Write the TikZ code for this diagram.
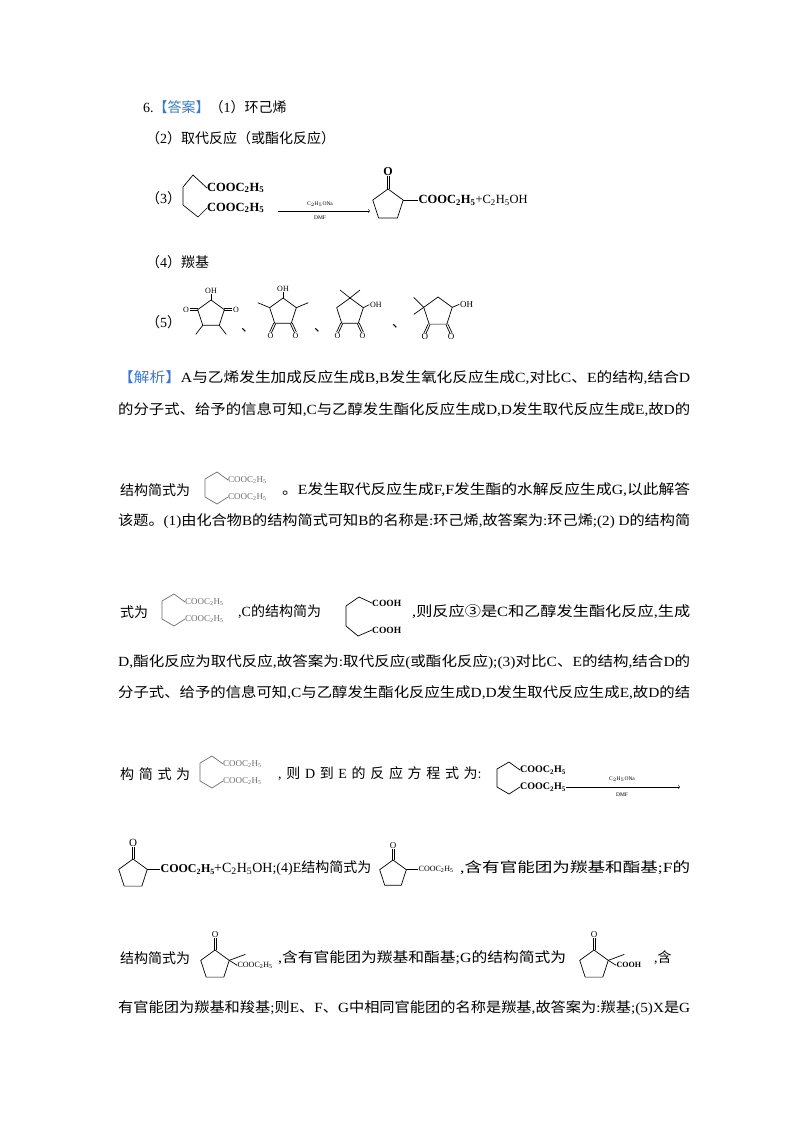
\documentclass[tikz,border=0pt]{standalone}
\usepackage{fontspec}
\usetikzlibrary{calc}
\setmainfont{Liberation Serif}
\newfontfamily\cjk{Noto Sans CJK SC}
\XeTeXinterchartokenstate=1
\newXeTeXintercharclass\cjkcls
\count255="4E00 \loop\XeTeXcharclass\count255=\cjkcls\ifnum\count255<"9FFF\advance\count255 1\repeat
\count255="3000 \loop\XeTeXcharclass\count255=\cjkcls\ifnum\count255<"303F\advance\count255 1\repeat
\count255="FF00 \loop\XeTeXcharclass\count255=\cjkcls\ifnum\count255<"FF60\advance\count255 1\repeat
\XeTeXcharclass"2462=\cjkcls
\XeTeXinterchartoks 0 \cjkcls={\cjk}
\XeTeXinterchartoks 4095 \cjkcls={\cjk}
\XeTeXinterchartoks \cjkcls 0={\rmfamily}
\XeTeXinterchartoks \cjkcls 4095={\rmfamily}
\definecolor{ansblue}{RGB}{60,120,200}
\definecolor{lgray}{RGB}{110,110,110}
\newcommand\Et{C\textsubscript{2}H\textsubscript{5}}
\newcommand\jl[4]{\node[txt] at (#1,#2) {\resizebox{#3pt}{\height}{#4}};}
% pentagon: name cx cy r
\newcommand\pent[4]{%
 \foreach \i/\a in {1/90,2/162,3/234,4/306,5/18}{\coordinate (#1\i) at ($(#2,#3)+(\a:#4pt)$);}
 \draw[bond] (#11)--(#12)--(#13)--(#14)--(#15)--cycle;}
% double bond: start, angle, length, anchor, fontsize, label
\newcommand\dbl[6]{%
 \draw[bond] ($(#1)+(#2+90:1pt)$) -- ++(#2:#3pt);
 \draw[bond] ($(#1)+(#2-90:1pt)$) -- ++(#2:#3pt);
 \node[anchor=#4,inner sep=0.5pt,font=\fontsize{#5}{#5}\selectfont] at ($(#1)+(#2:#3pt)$) {#6};}
% open chain: x y label
\newcommand\chain[3]{%
 \coordinate (ct) at (#1+12,#2-16); \coordinate (cl1) at (#1,#2-9);
 \coordinate (cl2) at (#1,#2+9); \coordinate (cb) at (#1+12,#2+16);
 \coordinate (ce1) at (#1+23,#2-8); \coordinate (ce2) at (#1+23,#2+9);
 \draw[bond] (ce1)--(ct)--(cl1)--(cl2)--(cb)--(ce2);
 \node[lab] at (ce1) {#3}; \node[lab] at (ce2) {#3};}
\begin{document}
\begin{tikzpicture}[x=1pt,y=-1pt,
 txt/.style={anchor=west,inner sep=0pt,font=\fontsize{14}{16}\selectfont},
 lab/.style={anchor=west,inner sep=0pt,font=\fontsize{10}{12}\selectfont},
 bond/.style={line width=0.7pt}]
\useasboundingbox (0,0) rectangle (800,1132);
\fill[white] (0,0) rectangle (800,1132);
% answers
\node[txt] (l1) at (143,107) {6.\textcolor{ansblue}{【答案】}（1）环己烯};
\node[txt] (l2) at (146,138) {（2）取代反应（或酯化反应）};
\node[txt] (l3) at (146,198) {（3）};
\node[txt] (l4) at (146,262) {（4）羰基};
\node[txt] (l5) at (146,322) {（5）};
% (3) reaction
\coordinate (a1) at (193,175); \coordinate (a2) at (183,187); \coordinate (a3) at (183,205);
\coordinate (a4) at (198,217); \coordinate (a5) at (207,188); \coordinate (a6) at (207,208);
\draw[bond] (a5)--(a1)--(a2)--(a3)--(a4)--(a6);
\node[lab,font=\fontsize{12.5}{14}\bfseries] (d1) at (a5) {COOC\textsubscript{2}H\textsubscript{5}};
\node[lab,font=\fontsize{12.5}{14}\bfseries] (d2) at (a6) {COOC\textsubscript{2}H\textsubscript{5}};
\coordinate (ar1) at (278,211); \coordinate (ar2) at (370,211);
\draw[->,line width=0.5pt] (ar1)--(ar2);
\node[font=\fontsize{5.5}{6}\selectfont] (c1) at (320,204) {C$_2$H$_5$ONa};
\node[font=\fontsize{5.5}{6}\selectfont] (c2) at (320,218) {DMF};
\pent{p}{388}{205}{16}
\dbl{p1}{90}{13}{south}{12}{\textbf{O}}
\draw[bond] (p5)--++(15,0) node[right,inner sep=0pt,font=\fontsize{12.5}{14}\selectfont] (e1) {\textbf{COOC\textsubscript{2}H\textsubscript{5}}+\Et OH};
% (5) structures
\pent{q}{211}{314}{14}
\draw[bond] (q1)--++(0,-6) node[above,inner sep=0.5pt,font=\fontsize{8}{9}\selectfont] {OH};
\dbl{q2}{180}{8}{east}{8}{O}
\dbl{q5}{0}{8}{west}{8}{O}
\draw[bond] (q3)--++(-7,9); \draw[bond] (q4)--++(7,9);
\pent{r}{283}{312}{14}
\draw[bond] (r1)--++(0,-6) node[above,inner sep=0.5pt,font=\fontsize{8}{9}\selectfont] {OH};
\draw[bond] (r2)--++(-12,-5); \draw[bond] (r5)--++(12,-5);
\dbl{r3}{-115}{10}{north}{8}{O}
\dbl{r4}{-65}{10}{north}{8}{O}
\pent{s}{350}{312}{14}
\draw[bond] (s1)--++(-10,-8); \draw[bond] (s1)--++(10,-8);
\draw[bond] (s5)--++(6,-3) node[right,inner sep=0.5pt,font=\fontsize{8}{9}\selectfont] {OH};
\dbl{s3}{-115}{10}{north}{8}{O}
\dbl{s4}{-65}{10}{north}{8}{O}
\pent{t}{438}{312}{15}
\draw[bond] (t2)--++(-10,-10); \draw[bond] (t2)--++(-10,7);
\draw[bond] (t5)--++(7,-3) node[right,inner sep=0.5pt,font=\fontsize{9}{9}\selectfont] {OH};
\dbl{t3}{-115}{10}{north}{9}{O}
\dbl{t4}{-65}{10}{north}{9}{O}
\node[txt] (sep1) at (241,330) {、};
\node[txt] (sep2) at (314,330) {、};
\node[txt] (sep3) at (392,326) {、};
% analysis
\jl{118}{378}{572}{\textcolor{ansblue}{【解析】}A与乙烯发生加成反应生成B,B发生氧化反应生成C,对比C、E的结构,结合D}
\jl{118}{410}{572}{的分子式、给予的信息可知,C与乙醇发生酯化反应生成D,D发生取代反应生成E,故D的}
\node[txt] (t490a) at (120,490) {结构简式为};
\begin{scope}[draw=lgray,lab/.append style={text=lgray,font=\fontsize{9}{10}\selectfont}]
\chain{205}{488}{COOC\textsubscript{2}H\textsubscript{5}}
\end{scope}
\jl{282}{490}{408}{。E发生取代反应生成F,F发生酯的水解反应生成G,以此解答}
\jl{118}{521}{572}{该题。(1)由化合物B的结构简式可知B的名称是:环己烯,故答案为:环己烯;(2) D的结构简}
\node[txt] (t612a) at (120,612) {式为};
\begin{scope}[draw=lgray,lab/.append style={text=lgray,font=\fontsize{9}{10}\selectfont}]
\chain{162}{610}{COOC\textsubscript{2}H\textsubscript{5}}
\end{scope}
\node[txt] (t612b) at (238,612) {,C的结构简为};
\coordinate (b1) at (346,606); \coordinate (b2) at (359,597); \coordinate (b3) at (372,603);
\coordinate (b4) at (346,626); \coordinate (b5) at (358,636); \coordinate (b6) at (372,630);
\draw[bond] (b3)--(b2)--(b1)--(b4)--(b5)--(b6);
\node[lab,font=\fontsize{9.5}{10}\bfseries] (ch1) at (b3) {COOH};
\node[lab,font=\fontsize{9.5}{10}\bfseries] (ch2) at (b6) {COOH};
\jl{412}{612}{278}{,则反应③是C和乙醇发生酯化反应,生成}
\jl{118}{662}{572}{D,酯化反应为取代反应,故答案为:取代反应(或酯化反应);(3)对比C、E的结构,结合D的}
\jl{118}{693}{572}{分子式、给予的信息可知,C与乙醇发生酯化反应生成D,D发生取代反应生成E,故D的结}
\node[txt] (t774a) at (120,774) {构\,\,简\,\,式\,\,为};
\begin{scope}[draw=lgray,lab/.append style={text=lgray,font=\fontsize{9}{10}\selectfont}]
\chain{200}{772}{COOC\textsubscript{2}H\textsubscript{5}}
\end{scope}
\node[txt] (t774b) at (278,774) {,\,\,则\,\,D\,\,到\,\,E\,\,的\,\,反\,\,应\,\,方\,\,程\,\,式\,\,为:};
\begin{scope}[lab/.append style={font=\fontsize{10}{11}\bfseries}]
\chain{497}{778}{COOC\textsubscript{2}H\textsubscript{5}}
\end{scope}
\coordinate (ar3) at (566,787); \coordinate (ar4) at (680,787);
\draw[->,line width=0.5pt] (ar3)--(ar4);
\node[font=\fontsize{5.5}{6}\selectfont] (c3) at (622,779) {C$_2$H$_5$ONa};
\node[font=\fontsize{5.5}{6}\selectfont] (c4) at (622,795) {DMF};
% line 868
\pent{u}{133}{874}{15}
\dbl{u1}{90}{12}{south}{11}{O}
\draw[bond] (u5)--++(13,0) node[right,inner sep=0pt,font=\fontsize{12}{13}\selectfont] (e2) {\textbf{COOC\textsubscript{2}H\textsubscript{5}}};
\node[txt] (t868a) at (214,868) {+\Et OH;(4)E结构简式为};
\pent{v}{393}{874}{14}
\dbl{v1}{90}{11}{south}{9}{O}
\draw[bond] (v5)--++(12,0) node[right,inner sep=0pt,font=\fontsize{8}{9}\selectfont] (e3) {COOC\textsubscript{2}H\textsubscript{5}};
\jl{460}{868}{230}{,含有官能团为羰基和酯基;F的}
% line 958
\node[txt] (t958a) at (120,958) {结构简式为};
\pent{w}{215}{965}{15}
\dbl{w1}{90}{12}{south}{9}{O}
\draw[bond] (w5)--++(16,-6); \draw[bond] (w5)--++(8,5) node[right,inner sep=0pt,font=\fontsize{8}{9}\selectfont] {COOC\textsubscript{2}H\textsubscript{5}};
\jl{278}{958}{288}{,含有官能团为羰基和酯基;G的结构简式为}
\pent{z}{594}{965}{15}
\dbl{z1}{90}{12}{south}{9}{O}
\draw[bond] (z5)--++(16,-6); \draw[bond] (z5)--++(8,5) node[right,inner sep=0pt,font=\fontsize{8}{9}\bfseries] {COOH};
\node[txt] (t958c) at (654,958) {,含};
\jl{118}{1008}{572}{有官能团为羰基和羧基;则E、F、G中相同官能团的名称是羰基,故答案为:羰基;(5)X是G}
\end{tikzpicture}
\end{document}
